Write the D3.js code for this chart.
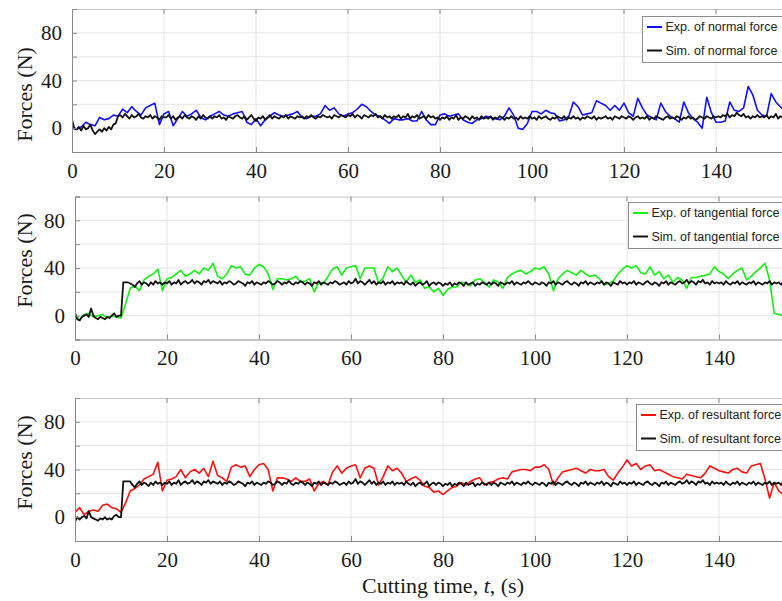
<!DOCTYPE html>
<html>
<head>
<meta charset="utf-8">
<script src="https://cdn.jsdelivr.net/npm/d3@7"></script>
<style>
body{margin:0;background:#fff}
svg{display:block}
</style>
</head>
<body>
<script>
// tick values
var xTicks = [0, 20, 40, 60, 80, 100, 120, 140, 160]
var xTickLabels = [0, 20, 40, 60, 80, 100, 120, 140]
var yTicks = [-20, 0, 20, 40, 60, 80, 100]
var yTickLabels = [0, 40, 80]

// experiment, one value per second, t = 0..156 s
var expNormal = [
  0, -1, 1, 5, 3, 2, 9, 7, 8, 11,
  10, 16, 13, 18, 14, 11, 17, 19, 21, 3,
  12, 14, 2, 8, 14, 10, 12, 15, 9, 7,
  10, 12, 14, 11, 10, 12, 13, 14, 5, 3,
  8, 2, 7, 10, 13, 11, 10, 11, 12, 14,
  9, 8, 10, 10, 12, 19, 15, 17, 12, 10,
  12, 13, 16, 20, 18, 14, 11, 10, 7, 4,
  8, 7, 7, 8, 6, 6, 14, 7, 3, 3,
  11, 12, 10, 11, 12, 7, 5, 4, 7, 8,
  10, 9, 8, 7, 10, 17, 11, 0, -1, 4,
  14, 14, 12, 15, 13, 12, 6, 7, 10, 22,
  18, 11, 12, 13, 23, 21, 19, 15, 19, 15,
  21, 13, 10, 25, 17, 11, 9, 7, 21, 14,
  10, 8, 5, 22, 13, 8, 5, 0, 26, 13,
  5, 5, 6, 22, 15, 14, 17, 35, 28, 15,
  11, 10, 29, 22, 18, 14, 20
]

var expTangential = [
  2, -4, 1, 2, -1, 0, 1, -2, 0, -1,
  -2, 10, 23, 25, 21, 30, 33, 35, 39, 21,
  31, 32, 35, 38, 33, 35, 38, 35, 40, 38,
  44, 33, 31, 35, 42, 40, 41, 35, 34, 40,
  43, 41, 35, 22, 31, 31, 30, 31, 33, 28,
  29, 31, 20, 28, 27, 33, 39, 41, 34, 40,
  41, 42, 31, 40, 40, 40, 27, 32, 41, 37,
  40, 34, 28, 34, 28, 30, 23, 24, 20, 23,
  17, 22, 24, 24, 28, 27, 25, 30, 31, 28,
  24, 30, 28, 23, 32, 35, 37, 38, 35, 37,
  40, 39, 41, 35, 21, 31, 35, 38, 36, 34,
  38, 35, 33, 34, 31, 26, 27, 29, 35, 39,
  42, 40, 42, 36, 35, 41, 34, 37, 31, 34,
  28, 32, 30, 23, 32, 32, 33, 34, 35, 41,
  37, 35, 31, 35, 38, 40, 30, 33, 37, 40,
  44, 30, 2, 1, 0, 0, 0
]

var expResultant = [
  4, 8, 2, 5, 6, 5, 10, 11, 8, 7,
  4, 12, 22, 24, 27, 32, 34, 36, 46, 22,
  31, 32, 34, 40, 33, 38, 40, 37, 41, 34,
  47, 35, 33, 30, 42, 44, 42, 43, 34, 40,
  44, 45, 40, 22, 33, 33, 32, 30, 33, 30,
  30, 32, 22, 28, 30, 27, 38, 43, 37, 41,
  43, 44, 33, 41, 43, 41, 27, 34, 43, 39,
  41, 37, 30, 32, 34, 31, 26, 25, 21, 22,
  19, 22, 25, 26, 29, 27, 30, 32, 33, 27,
  29, 30, 32, 33, 32, 38, 39, 40, 40, 39,
  42, 42, 44, 40, 27, 33, 38, 39, 40, 41,
  39, 37, 40, 39, 39, 40, 34, 31, 37, 42,
  48, 43, 45, 40, 43, 44, 39, 40, 38, 36,
  34, 33, 32, 36, 35, 34, 33, 37, 43, 41,
  39, 38, 37, 40, 41, 38, 37, 43, 44, 45,
  32, 16, 29, 22, 19, 20, 21
]

// simulation, one value per half second, t = 0..156 s
var simNormal = [
  7, 0, -1, 1, -2, 2, -1, 0, 3, -2, -5, -3, -1, -3, 0, -2, 1, -1, 3, 4, 10,
  11, 9, 12, 10, 8, 11, 9, 10, 12, 9, 8, 10, 9, 11, 8, 10, 9, 7, 10, 9,
  9, 11, 8, 10, 7, 9, 10, 8, 11, 9, 8, 10, 9, 7, 10, 8, 11, 9, 8, 10,
  8, 10, 9, 11, 8, 9, 7, 10, 9, 8, 10, 11, 9, 8, 10, 7, 9, 11, 8, 6,
  9, 8, 10, 7, 9, 11, 8, 10, 9, 8, 10, 9, 11, 8, 10, 9, 8, 10, 9, 10,
  8, 10, 9, 11, 9, 8, 10, 9, 11, 10, 9, 10, 8, 11, 10, 9, 11, 10, 9, 11,
  10, 12, 9, 11, 10, 8, 11, 10, 9, 11, 10, 12, 9, 10, 8, 11, 9, 10, 8, 10,
  9, 11, 8, 10, 9, 12, 8, 10, 9, 11, 8, 9, 10, 8, 11, 9, 10, 8, 9, 7,
  9, 8, 10, 7, 9, 8, 11, 7, 9, 8, 10, 9, 7, 10, 8, 9, 7, 10, 8, 9,
  8, 10, 7, 9, 8, 10, 9, 7, 9, 8, 10, 8, 9, 7, 10, 8, 9, 8, 10, 8,
  9, 7, 10, 8, 9, 10, 8, 7, 9, 8, 10, 9, 8, 10, 7, 9, 8, 10, 8, 9,
  7, 9, 8, 10, 9, 8, 10, 7, 9, 8, 9, 10, 8, 9, 7, 10, 9, 8, 10, 9,
  8, 10, 9, 7, 9, 10, 8, 9, 8, 10, 7, 9, 8, 10, 9, 8, 7, 9, 10, 8,
  9, 8, 10, 9, 7, 9, 8, 10, 8, 9, 7, 8, 10, 9, 8, 10, 9, 8, 10, 9,
  10, 9, 11, 10, 12, 9, 11, 10, 13, 11, 10, 12, 9, 10, 8, 10, 9, 11, 9, 10,
  9, 11, 8, 10, 9, 12, 8, 10, 9, 8, 10, 9
]

var simTangential = [
  2, -3, -4, -1, 0, 1, -1, 6, 0, -2, -3, -1, -2, -3, -1, -2, 0, 2, -1, 0, 0,
  28, 28, 28, 27, 26, 24, 27, 29, 26, 28, 27, 25, 28, 26, 29, 27, 28, 26, 28, 27,
  29, 26, 28, 27, 30, 26, 28, 29, 27, 28, 30, 27, 29, 28, 26, 29, 28, 30, 27, 29,
  28, 27, 29, 26, 28, 27, 29, 28, 26, 27, 29, 28, 27, 25, 28, 27, 29, 26, 28, 27,
  26, 28, 27, 29, 28, 26, 27, 29, 28, 26, 28, 27, 29, 27, 26, 28, 27, 29, 28, 26,
  28, 27, 25, 28, 27, 29, 26, 28, 27, 26, 28, 27, 29, 28, 26, 27, 28, 26, 29, 27,
  28, 31, 27, 29, 28, 26, 28, 30, 27, 29, 26, 28, 27, 29, 26, 28, 27, 29, 26, 28,
  27, 28, 26, 29, 27, 26, 28, 25, 27, 28, 26, 27, 29, 25, 27, 28, 26, 28, 27, 25,
  27, 26, 28, 25, 27, 26, 28, 27, 25, 28, 26, 27, 28, 25, 27, 26, 28, 27, 26, 28,
  26, 28, 27, 25, 28, 27, 26, 28, 27, 29, 26, 28, 27, 26, 28, 27, 29, 27, 26, 28,
  27, 26, 28, 27, 25, 28, 27, 29, 26, 28, 27, 26, 28, 29, 27, 26, 28, 27, 25, 28,
  27, 29, 26, 28, 27, 26, 28, 27, 29, 26, 28, 27, 25, 28, 27, 26, 29, 27, 28, 26,
  28, 27, 29, 26, 28, 27, 26, 28, 29, 27, 26, 28, 27, 25, 28, 27, 29, 26, 28, 27,
  26, 28, 29, 27, 28, 30, 27, 29, 28, 26, 29, 28, 30, 27, 28, 26, 29, 27, 28, 27,
  28, 26, 29, 27, 26, 28, 27, 29, 26, 28, 27, 26, 28, 27, 29, 26, 28, 27, 26, 28,
  27, 29, 26, 28, 27, 28, 26, 29, 27, 28, 26, 28
]

var simResultant = [
  -4, 0, -2, 0, 1, -1, 5, 0, -1, -2, -3, -1, -2, 0, -2, -1, -2, 1, 2, 0, 0,
  30, 30, 30, 30, 27, 25, 28, 30, 27, 29, 28, 26, 29, 27, 30, 28, 29, 27, 29, 28,
  30, 27, 29, 28, 31, 27, 29, 30, 28, 29, 31, 28, 30, 29, 27, 30, 29, 31, 28, 30,
  29, 28, 30, 27, 29, 28, 30, 29, 27, 28, 30, 29, 28, 26, 29, 28, 30, 27, 29, 28,
  27, 29, 28, 30, 29, 27, 28, 30, 29, 27, 29, 28, 31, 28, 27, 29, 28, 30, 29, 27,
  29, 28, 26, 29, 28, 30, 27, 29, 28, 27, 29, 28, 30, 29, 27, 28, 29, 27, 30, 28,
  29, 32, 28, 30, 29, 27, 29, 31, 28, 30, 27, 29, 28, 30, 27, 29, 28, 30, 27, 29,
  28, 29, 27, 30, 28, 27, 29, 26, 28, 29, 27, 28, 30, 26, 28, 29, 27, 29, 28, 26,
  28, 27, 29, 26, 28, 27, 29, 28, 26, 29, 27, 28, 29, 26, 28, 27, 29, 28, 27, 29,
  27, 29, 28, 26, 29, 28, 27, 29, 28, 30, 27, 29, 28, 27, 29, 28, 30, 28, 27, 29,
  28, 27, 29, 28, 26, 29, 28, 30, 27, 29, 28, 27, 29, 30, 28, 27, 29, 28, 26, 29,
  28, 30, 27, 29, 28, 27, 29, 28, 30, 27, 29, 28, 26, 29, 28, 27, 30, 28, 29, 27,
  29, 28, 30, 27, 29, 28, 27, 29, 30, 28, 27, 29, 28, 26, 29, 28, 30, 27, 29, 28,
  27, 29, 30, 28, 29, 31, 28, 30, 29, 27, 30, 29, 31, 28, 29, 27, 30, 28, 29, 28,
  29, 27, 30, 28, 27, 29, 28, 30, 27, 29, 28, 27, 29, 28, 30, 27, 29, 28, 27, 29,
  28, 30, 27, 29, 28, 29, 27, 30, 28, 29, 27, 29
]

var expStep = 1, simStep = 0.5

var panels = [
  {exp: expNormal, sim: simNormal, color: '#1010ff',
   expName: 'Exp. of normal force', simName: 'Sim. of normal force',
   left: 72, top: 9, labelY: 94.5, legend: {x: 642, y: 16}},
  {exp: expTangential, sim: simTangential, color: '#12f012',
   expName: 'Exp. of tangential force', simName: 'Sim. of tangential force',
   left: 75, top: 196.5, labelY: 260.5, legend: {x: 628, y: 202}},
  {exp: expResultant, sim: simResultant, color: '#ff1010',
   expName: 'Exp. of resultant force', simName: 'Sim. of resultant force',
   left: 75, top: 398, labelY: 462.5, legend: {x: 636, y: 404}},
]

var width = 782, height = 601
var plotW = 736, plotH = 143
var serif = '"Liberation Serif", "Times New Roman", serif'
var sans = '"Liberation Sans", Arial, sans-serif'

var svg = d3.select('body').append('svg')
  .attr('width', width)
  .attr('height', height)

panels.forEach(function(p, pi){
  var x = d3.scaleLinear().domain([0, 160]).range([p.left, p.left + plotW])
  var y = d3.scaleLinear().domain([-20, 100]).range([p.top + plotH, p.top])

  var g = svg.append('g')

  svg.append('clipPath').attr('id', 'clip' + pi)
    .append('rect')
    .attr('x', p.left).attr('y', p.top)
    .attr('width', plotW).attr('height', plotH)

  // grid
  g.append('g').selectAll('line').data(xTicks.slice(1)).join('line')
    .attr('x1', d => x(d)).attr('x2', d => x(d))
    .attr('y1', p.top).attr('y2', p.top + plotH)
    .attr('stroke', '#e6e6e6')
  g.append('g').selectAll('line').data(yTicks.slice(1, -1)).join('line')
    .attr('x1', p.left).attr('x2', p.left + plotW)
    .attr('y1', d => y(d)).attr('y2', d => y(d))
    .attr('stroke', '#e6e6e6')

  // top border + ticks
  g.append('line')
    .attr('x1', p.left).attr('x2', p.left + plotW)
    .attr('y1', p.top + 0.5).attr('y2', p.top + 0.5)
    .attr('stroke', '#c4c4c4')
  g.append('g').selectAll('line').data(xTicks.slice(1)).join('line')
    .attr('x1', d => x(d)).attr('x2', d => x(d))
    .attr('y1', p.top).attr('y2', p.top + 5)
    .attr('stroke', '#8a8a8a')

  var line = d3.line()
    .x(d => x(d[0]))
    .y(d => y(d[1]))

  var expPts = p.exp.map((v, i) => [i*expStep, v])
  var simPts = p.sim.map((v, i) => [i*simStep, v])

  var lines = g.append('g').attr('clip-path', 'url(#clip' + pi + ')')
  lines.append('path').datum(expPts)
    .attr('d', line)
    .attr('fill', 'none')
    .attr('stroke', p.color)
    .attr('stroke-width', 1.6)
    .attr('stroke-linejoin', 'round')
  lines.append('path').datum(simPts)
    .attr('d', line)
    .attr('fill', 'none')
    .attr('stroke', '#111')
    .attr('stroke-width', 1.8)
    .attr('stroke-linejoin', 'round')

  // axes
  var yAxis = d3.axisLeft(y)
    .tickValues(yTicks)
    .tickSize(-5)
    .tickPadding(10)
    .tickFormat(d => yTickLabels.includes(d) ? d : '')
  var xAxis = d3.axisBottom(x)
    .tickValues(xTicks)
    .tickSize(-5)
    .tickPadding(11)
    .tickFormat(d => xTickLabels.includes(d) ? d : '')

  var ya = g.append('g').attr('transform', `translate(${p.left},0)`).call(yAxis)
  var xa = g.append('g').attr('transform', `translate(0,${p.top + plotH})`).call(xAxis)

  ;[ya, xa].forEach(function(a){
    a.select('.domain').attr('stroke', '#8a8a8a')
    a.selectAll('.tick line').attr('stroke', '#8a8a8a')
    a.selectAll('.tick text')
      .attr('fill', '#1a1a1a')
      .style('font-family', serif)
      .style('font-size', '21px')
  })

  g.append('text')
    .attr('transform', `translate(24,${p.labelY}) rotate(-90)`)
    .attr('text-anchor', 'middle')
    .attr('dy', '0.35em')
    .style('font-family', serif)
    .style('font-size', '22px')
    .attr('fill', '#1a1a1a')
    .text('Forces (N)')

  // legend
  var lg = g.append('g').attr('transform', `translate(${p.legend.x},${p.legend.y})`)
  lg.append('rect')
    .attr('x', 0.5).attr('y', 0.5)
    .attr('width', 220).attr('height', 46)
    .attr('fill', '#fff')
    .attr('stroke', '#8c8c8c')
  var rows = [{name: p.expName, color: p.color}, {name: p.simName, color: '#111'}]
  rows.forEach(function(r, ri){
    var ry = 11 + ri*23.5
    lg.append('line')
      .attr('x1', 5).attr('x2', 20)
      .attr('y1', ry).attr('y2', ry)
      .attr('stroke', r.color)
      .attr('stroke-width', 2)
    lg.append('text')
      .attr('x', 23.5).attr('y', ry)
      .attr('dy', '0.35em')
      .style('font-family', sans)
      .style('font-size', '12.5px')
      .attr('fill', '#222')
      .text(r.name)
  })
})

// x axis title
var last = panels[2]
var xt = svg.append('text')
  .attr('x', last.left + 80*4.6)
  .attr('y', 593)
  .attr('text-anchor', 'middle')
  .style('font-family', serif)
  .style('font-size', '22px')
  .attr('fill', '#1a1a1a')
xt.append('tspan').text('Cutting time, ')
xt.append('tspan').style('font-style', 'italic').text('t')
xt.append('tspan').text(', (s)')
</script>
</body>
</html>
